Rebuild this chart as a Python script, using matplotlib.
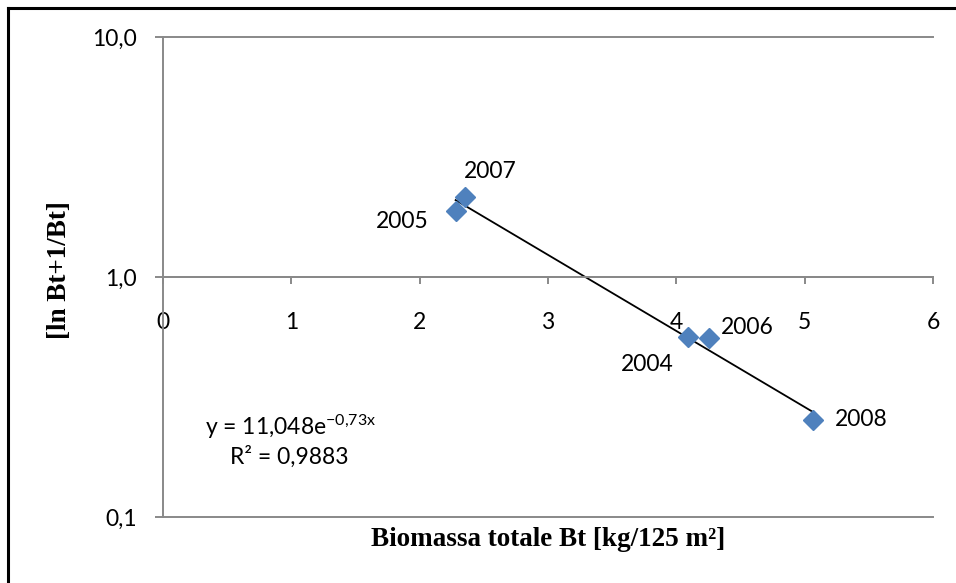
import numpy as np
import matplotlib
matplotlib.use("Agg")
import matplotlib.pyplot as plt
from matplotlib.lines import Line2D
from matplotlib.ticker import FixedLocator, NullLocator

plt.rcParams['font.family'] = ['Lato', 'DejaVu Sans']
plt.rcParams['mathtext.fontset'] = 'custom'
plt.rcParams['mathtext.rm'] = 'Lato'
plt.rcParams['mathtext.it'] = 'Lato'

# biomass vs ln(Bt+1/Bt), one point per year
years = ['2005', '2007', '2004', '2006', '2008']
biomass = [2.28, 2.35, 4.09, 4.255, 5.065]
ratio = [1.89, 2.15, 0.56, 0.557, 0.254]
# label offsets in pixels (dx, dy)
label_off = [(-53, -11), (26, 26), (-41, -27), (38, 10), (48, 0)]

# exponential trend y = a*exp(b*x)
a_fit = 11.048
b_fit = -0.73
r2 = 0.9883

grey = '#898989'
blue = '#4F81BD'

fig = plt.figure(figsize=(9.56, 5.83), dpi=100)
ax = fig.add_axes([163/956, 1-517/583, (933-163)/956, (517-37)/583])

ax.set_yscale('log')
ax.set_xlim(0, 6)
ax.set_ylim(0.1, 10)

# trendline over the data range
xt = np.linspace(min(biomass), max(biomass), 50)
ax.plot(xt, a_fit*np.exp(b_fit*xt), color='black', lw=1.3, zorder=2)

ax.plot(biomass, ratio, 'D', color=blue, markeredgecolor=blue, ms=10, zorder=3, clip_on=False)

for yr, x, y, (dx, dy) in zip(years, biomass, ratio, label_off):
    ax.annotate(yr, (x, y), xytext=(dx, dy), textcoords='offset pixels',
                ha='center', va='center', fontsize=16.5)

# grid and axes
for v in [0.1, 1, 10]:
    ax.axhline(v, color=grey, lw=1.4, zorder=1, clip_on=False)
ax.spines['top'].set_visible(False)
ax.spines['right'].set_visible(False)
ax.spines['left'].set_color(grey)
ax.spines['left'].set_linewidth(1.4)
ax.spines['bottom'].set_position(('data', 1))
ax.spines['bottom'].set_color(grey)
ax.spines['bottom'].set_linewidth(1.4)

ax.xaxis.set_major_locator(FixedLocator([0, 1, 2, 3, 4, 5, 6]))
ax.set_xticklabels(['0', '1', '2', '3', '4', '5', '6'])
ax.yaxis.set_major_locator(FixedLocator([0.1, 1, 10]))
ax.yaxis.set_minor_locator(NullLocator())
ax.set_yticklabels(['0,1', '1,0', '10,0'])
ax.tick_params(axis='x', direction='out', length=5, width=1.4, color=grey, pad=20, labelsize=16.5)
ax.tick_params(axis='y', direction='out', length=6, width=1.4, color=grey, pad=13, labelsize=16.5)

# equation of the trend
ax.text(205/956, 1-427/583, r'y = 11,048e$^{-0{,}73x}$', transform=fig.transFigure,
        ha='left', va='center', fontsize=16.5)
ax.text(230/956, 1-457/583, 'R² = 0,9883', transform=fig.transFigure,
        ha='left', va='center', fontsize=16.5)

fig.text(548/956, 1-539/583, 'Biomassa totale Bt [kg/125 m²]', ha='center', va='center',
         fontsize=19.5, fontweight='bold', family='Liberation Serif')
fig.text(60/956, 1-270/583, '[ln Bt+1/Bt]', ha='center', va='center', rotation=90,
         fontsize=19.5, fontweight='bold', family='Liberation Serif')

# frame on the left and top edges
fig.add_artist(Line2D([7.5/956, 1], [1-7.5/583, 1-7.5/583], color='black', lw=2.2))
fig.add_artist(Line2D([7.5/956, 7.5/956], [0, 1-7.5/583], color='black', lw=2.2))

fig.savefig('out.png', dpi=100)
